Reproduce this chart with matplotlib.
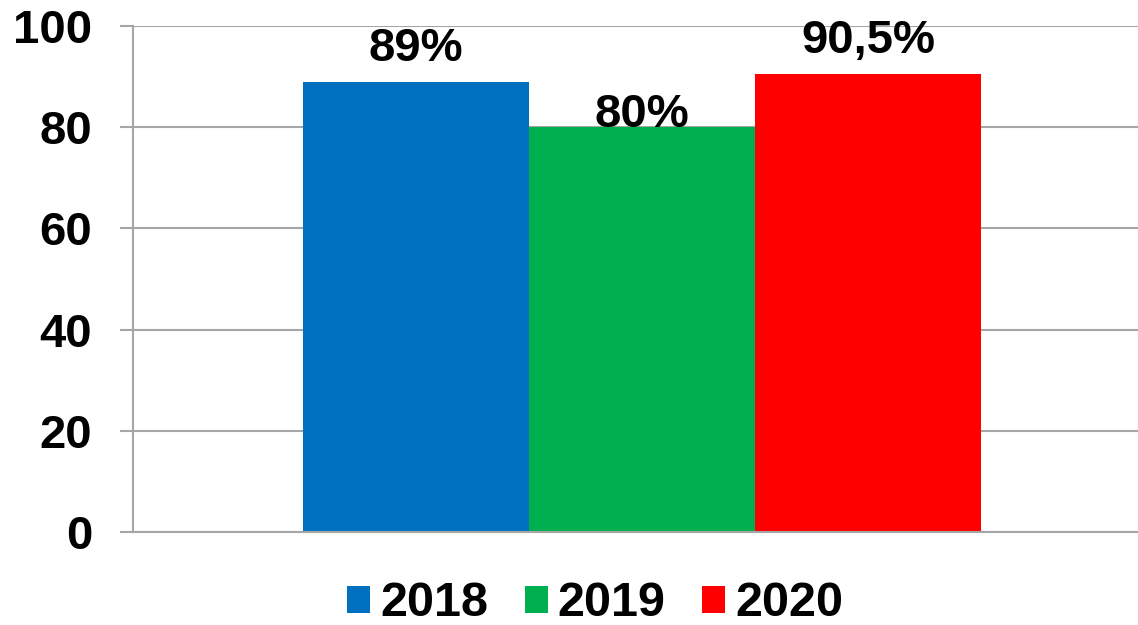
import matplotlib
matplotlib.use("Agg")
import matplotlib.pyplot as plt
from matplotlib.patches import Patch

# data
years = ["2018", "2019", "2020"]
values = [89, 80, 90.5]
labels = ["89%", "80%", "90,5%"]
colors = ["#0070C0", "#00B050", "#FF0000"]
yticks = [0, 20, 40, 60, 80, 100]

plt.rcParams['font.family'] = ['Liberation Sans', 'DejaVu Sans']
plt.rcParams['font.weight'] = 'bold'

fig = plt.figure(figsize=(11.38, 6.25), dpi=100)
ax = fig.add_axes([133 / 1138, 93 / 625, 1018 / 1138, 506 / 625])

grid_col = "#A6A6A6"
xs = [-1, 0, 1]
bars = ax.bar(xs, values, width=1.0, color=colors, zorder=3)

# label offsets (points) above bar tops
offsets = [15, 0.5, 15]
for b, lab, off in zip(bars, labels, offsets):
    ax.annotate(lab, (b.get_x() + b.get_width() / 2, b.get_height()),
                xytext=(0, off), textcoords="offset points",
                ha="center", va="baseline", fontsize=34, fontweight="bold",
                zorder=4)

ax.set_xlim(-2.252, 2.252)
ax.set_ylim(0, 100)
ax.set_yticks(yticks)
ax.set_xticks([])
ax.yaxis.grid(True, color=grid_col, linewidth=1.5, zorder=0)
ax.tick_params(axis="y", direction="out", length=9.4, width=1.5,
               color=grid_col, labelsize=34, pad=20)
for lab in ax.get_yticklabels():
    lab.set_fontweight("bold")

for s in ["top", "right"]:
    ax.spines[s].set_visible(False)
ax.spines["left"].set_color(grid_col)
ax.spines["left"].set_linewidth(1.5)
ax.spines["bottom"].set_color(grid_col)
ax.spines["bottom"].set_linewidth(1.5)
ax.spines["bottom"].set_zorder(5)

handles = [Patch(facecolor=c, label=y) for c, y in zip(colors, years)]
leg = fig.legend(handles=handles, loc="center", bbox_to_anchor=(595 / 1138, 1 - 604 / 625),
                 ncol=3, frameon=False, handlelength=0.48, handleheight=0.48,
                 handletextpad=0.2, columnspacing=0.75,
                 prop={"weight": "bold", "size": 35})

fig.savefig("out.png", dpi=100)
